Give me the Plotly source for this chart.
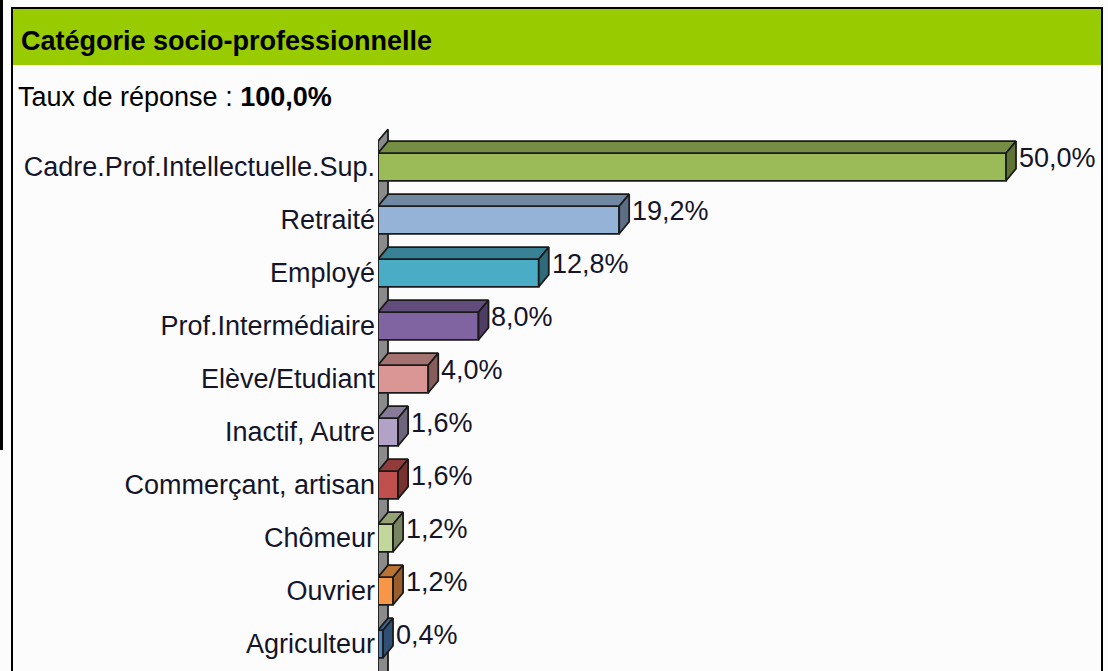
import plotly.graph_objects as go

categories = ["Cadre.Prof.Intellectuelle.Sup.", "Retraité", "Employé", "Prof.Intermédiaire",
              "Elève/Etudiant", "Inactif, Autre", "Commerçant, artisan", "Chômeur",
              "Ouvrier", "Agriculteur"]
values = [50.0, 19.2, 12.8, 8.0, 4.0, 1.6, 1.6, 1.2, 1.2, 0.4]
colors = ["#9BBB59", "#95B3D7", "#4BACC6", "#8064A2", "#D99694",
          "#B3A2C7", "#C0504D", "#C3D69B", "#F79646", "#4F81BD"]
response_rate = 100.0

W, H = 1108, 671
FONT = "Liberation Sans, Arial, sans-serif"
FS = 27

# plot area in pixels
L, R, T, B = 378, 1100, 120, 671
PX_PER_PCT = 12.56
PX_PER_CAT = 53
TOP_CENTER = 167

n = len(categories)
ypos = [n - 1 - i for i in range(n)]
xmax = (R - L) / PX_PER_PCT
yhi = (n - 1) + (TOP_CENTER - T) / PX_PER_CAT
ylo = yhi - (B - T) / PX_PER_CAT

DX = 10 / PX_PER_PCT
DY = 12 / PX_PER_CAT
HH = 0.26
EDGE = "#1a1a1a"


def shade(hexcol, f):
    h = hexcol.lstrip("#")
    r, g, b = (int(h[i:i + 2], 16) for i in (0, 2, 4))
    return "rgb(%d,%d,%d)" % (r * f, g * f, b * f)


def poly(xs, ys, fill):
    return go.Scatter(x=xs + [xs[0]], y=ys + [ys[0]], mode="lines", fill="toself",
                      fillcolor=fill, line=dict(color=EDGE, width=1.8),
                      hoverinfo="skip", showlegend=False)


fig = go.Figure()

# grey wall behind the bars
wall_top = (n - 1) + HH + DY
fig.add_trace(poly([0, DX, DX, 0],
                   [ylo - 1, ylo - 1 + DY, wall_top + DY, wall_top], "#8a8a8a"))

for y, v, c, cat in zip(ypos, values, colors, categories):
    # front face
    fig.add_trace(go.Scatter(x=[0, v, v, 0, 0], y=[y - HH, y - HH, y + HH, y + HH, y - HH],
                             mode="lines", fill="toself", fillcolor=c,
                             line=dict(color=EDGE, width=1.8), name=cat,
                             hovertemplate=cat + ": %{customdata}<extra></extra>",
                             customdata=[v] * 5, showlegend=False))
    # top face
    fig.add_trace(poly([0, v, v + DX, DX],
                       [y + HH, y + HH, y + HH + DY, y + HH + DY], shade(c, 0.76)))
    # side face
    fig.add_trace(poly([v, v + DX, v + DX, v],
                       [y - HH, y - HH + DY, y + HH + DY, y + HH], shade(c, 0.62)))
    fig.add_annotation(x=v + DX, y=y + 0.17, xref="x", yref="y",
                       text=("%.1f" % v).replace(".", ",") + "%",
                       showarrow=False, xanchor="left", xshift=1,
                       font=dict(family=FONT, size=FS, color="#15152a"))

shapes = [
    # header band
    dict(type="rect", xref="paper", yref="paper", x0=13 / W, x1=1101 / W,
         y0=1 - 65 / H, y1=1 - 9 / H, fillcolor="#99CC00", line=dict(width=0), layer="below"),
    # frame
    dict(type="rect", xref="paper", yref="paper", x0=12 / W, x1=1102 / W,
         y0=-0.05, y1=1 - 8 / H, line=dict(color="black", width=2)),
    # stray edge on the far left
    dict(type="line", xref="paper", yref="paper", x0=1.5 / W, x1=1.5 / W,
         y0=1 - 450 / H, y1=1.01, line=dict(color="black", width=3)),
]

fig.add_annotation(x=19 / W, y=1 - 41 / H, xref="paper", yref="paper",
                   text="<b>Catégorie socio-professionnelle</b>", showarrow=False,
                   xanchor="left", yanchor="middle",
                   font=dict(family=FONT, size=FS, color="black"))
fig.add_annotation(x=16 / W, y=1 - 97 / H, xref="paper", yref="paper",
                   text="Taux de réponse : <b>" + ("%.1f" % response_rate).replace(".", ",") + "%</b>",
                   showarrow=False, xanchor="left", yanchor="middle",
                   font=dict(family=FONT, size=FS, color="black"))

fig.update_layout(
    width=W, height=H,
    margin=dict(l=0, r=0, t=0, b=0, pad=0),
    paper_bgcolor="#fcfcfc", plot_bgcolor="#fcfcfc",
    shapes=shapes,
    xaxis=dict(domain=[L / W, R / W], range=[0, xmax], visible=False,
               fixedrange=True, automargin=False),
    yaxis=dict(domain=[0, (H - T) / H], range=[ylo, yhi], tickvals=ypos, ticktext=categories,
               showgrid=False, zeroline=False, showline=False, ticks="", automargin=False,
               ticklabelstandoff=2,
               tickfont=dict(family=FONT, size=FS, color="#15152a"), fixedrange=True),
)

# the page's default body margin would push the figure 8px in
fig.write_html("out.html", config={"displayModeBar": False},
               post_script="document.body.style.margin='0';")
